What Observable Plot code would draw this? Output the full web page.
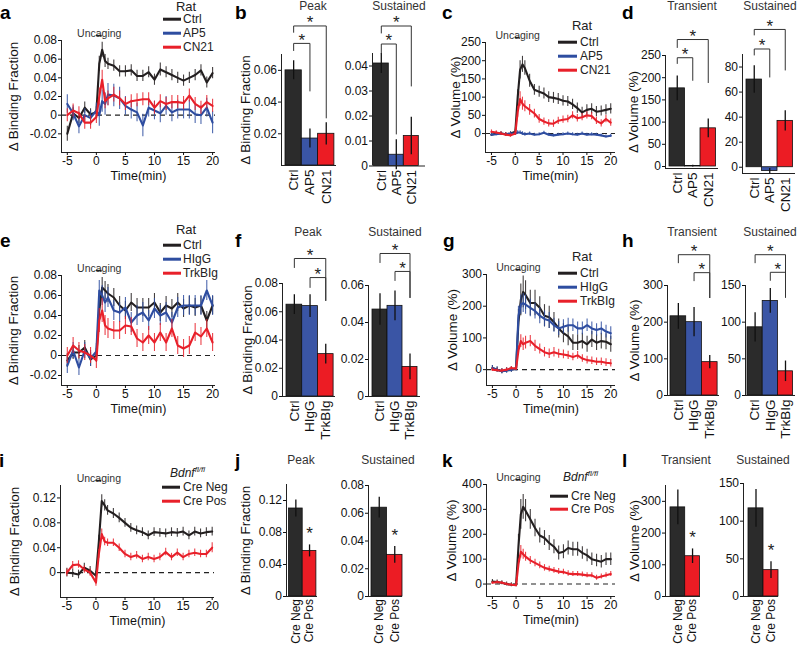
<!DOCTYPE html>
<html><head><meta charset="utf-8">
<script src="https://cdn.jsdelivr.net/npm/d3@7"></script>
<script src="https://cdn.jsdelivr.net/npm/@observablehq/plot@0.6"></script>
<style>
body{margin:0;background:#fff;}
#root{position:relative;width:800px;height:645px;overflow:hidden;font-family:"Liberation Sans",Arial,Helvetica,sans-serif;color:#111;background:#fff;}
.abs{position:absolute;white-space:nowrap;line-height:1;}
.letter{font-weight:bold;font-size:19px;color:#000;}
.title{font-size:12px;color:#333;transform:translate(-50%,-50%);}
.legtxt{font-size:12px;color:#222;transform:translateY(-50%);}
.legtitle{font-size:13px;color:#222;transform:translate(-50%,-50%);}
.sw{position:absolute;height:2.6px;transform:translateY(-50%);}
</style></head><body><div id="root"></div>
<script>
// ---------- time axis ----------
const T = [-5,-4,-3,-2,-1,0,0.5,1,1.5,2,3,4,5,6,7,8,9,10,11,12,13,14,15,16,17,18,19,20];
const TIME_TICKS = [-5,0,5,10,15,20];

// ---------- panel a (binding fraction, rat) ----------
const aCtrl    = [-0.020,0.002,-0.003,0.008,0.001,0.003,0.055,0.070,0.058,0.055,0.053,0.047,0.047,0.048,0.042,0.042,0.046,0.038,0.049,0.046,0.043,0.040,0.037,0.040,0.043,0.048,0.035,0.045];
const aCtrlErr = [0.008,0.006,0.006,0.006,0.006,0.006,0.008,0.008,0.007,0.006,0.006,0.006,0.006,0.006,0.006,0.006,0.006,0.006,0.007,0.006,0.006,0.006,0.006,0.006,0.006,0.006,0.006,0.006];
const aAP5     = [0.012,0.002,-0.012,0.000,-0.003,0.005,0.000,0.015,0.012,0.022,0.021,0.018,0.010,0.006,0.003,-0.011,0.008,0.005,0.002,0.010,0.003,0.006,0.006,0.006,0.001,0.000,0.008,-0.008];
const aAP5Err  = [0.010,0.008,0.008,0.007,0.008,0.008,0.012,0.012,0.012,0.012,0.012,0.012,0.010,0.010,0.010,0.012,0.010,0.010,0.010,0.010,0.010,0.010,0.010,0.010,0.010,0.010,0.010,0.012];
const aCN21    = [0.000,0.005,0.002,-0.008,-0.008,-0.002,0.020,0.038,0.015,0.018,0.022,0.018,0.012,0.015,0.016,0.017,0.017,0.008,0.015,0.012,0.014,0.014,0.013,0.021,0.012,0.008,0.014,0.010];
const aCN21Err = [0.007,0.007,0.007,0.007,0.007,0.007,0.009,0.010,0.008,0.008,0.008,0.008,0.007,0.007,0.007,0.007,0.007,0.007,0.007,0.007,0.007,0.007,0.007,0.007,0.007,0.007,0.007,0.007];

// ---------- panel c (volume, rat) ----------
const cCtrl    = [-3,0,0,-2,0,5,100,175,190,180,145,120,115,110,100,98,95,90,88,80,70,58,65,68,60,62,65,68];
const cCtrlErr = [5,5,5,5,5,5,20,25,22,20,18,15,15,15,15,15,15,14,14,14,14,14,14,14,14,14,14,14];
const cAP5     = [-3,-2,0,-2,0,0,3,3,0,-2,0,-3,-2,2,-3,-5,-3,-2,0,-2,-3,0,-3,-2,-3,-5,-8,-6];
const cAP5Err  = [4,4,4,4,4,4,5,5,5,5,4,4,4,4,4,4,4,4,4,4,4,4,4,4,4,4,4,4];
const cCN21    = [5,3,0,-3,-5,0,60,95,82,75,65,55,40,33,28,27,35,38,40,50,42,45,50,48,35,28,40,30];
const cCN21Err = [5,5,5,5,5,5,15,20,18,15,15,12,12,10,10,10,10,10,10,10,10,10,10,10,10,10,10,10];

// ---------- panel e (binding fraction, antibodies) ----------
const eCtrl    = [-0.005,0.003,0.003,0.008,-0.004,0.000,0.045,0.068,0.065,0.062,0.058,0.050,0.045,0.053,0.048,0.048,0.048,0.053,0.043,0.050,0.047,0.053,0.047,0.050,0.048,0.050,0.035,0.050];
const eCtrlErr = [0.007,0.007,0.007,0.007,0.007,0.007,0.010,0.010,0.009,0.009,0.009,0.009,0.009,0.009,0.009,0.009,0.009,0.009,0.009,0.009,0.009,0.009,0.009,0.009,0.009,0.009,0.009,0.009];
const eHIgG    = [-0.010,0.005,-0.012,0.005,-0.003,0.004,0.065,0.060,0.053,0.058,0.045,0.043,0.048,0.033,0.040,0.043,0.035,0.047,0.040,0.043,0.033,0.048,0.050,0.050,0.050,0.050,0.065,0.050];
const eHIgGErr = [0.008,0.008,0.008,0.008,0.008,0.008,0.010,0.010,0.010,0.010,0.010,0.010,0.010,0.010,0.010,0.010,0.010,0.010,0.010,0.010,0.010,0.010,0.010,0.010,0.010,0.010,0.010,0.010];
const eTrk     = [0.000,0.010,0.005,0.003,0.000,-0.005,0.035,0.045,0.030,0.027,0.025,0.025,0.030,0.029,0.017,0.013,0.020,0.013,0.023,0.013,0.027,0.010,0.007,0.010,0.023,0.019,0.027,0.013];
const eTrkErr  = [0.008,0.008,0.008,0.008,0.008,0.008,0.012,0.012,0.010,0.010,0.009,0.009,0.009,0.009,0.009,0.009,0.009,0.009,0.009,0.009,0.009,0.009,0.009,0.009,0.009,0.009,0.009,0.009];

// ---------- panel g (volume, antibodies) ----------
const gCtrl    = [5,0,-5,-2,0,5,150,220,245,235,210,210,195,170,165,150,130,115,105,85,85,90,80,95,85,90,88,80];
const gCtrlErr = [8,8,8,8,8,8,40,50,50,45,40,40,35,35,35,30,30,30,30,25,25,25,25,25,25,25,25,25];
const gHIgG    = [5,0,-5,-3,0,3,170,205,210,205,195,185,170,160,155,140,130,135,140,140,130,130,140,130,125,130,120,115];
const gHIgGErr = [8,8,8,8,8,8,30,30,30,30,28,25,25,25,25,22,22,22,22,20,20,20,20,20,20,20,20,20];
const gTrk     = [0,-2,-3,0,5,3,60,90,80,85,90,75,65,55,50,55,50,48,45,40,45,35,30,28,25,25,22,20];
const gTrkErr  = [5,5,5,5,5,5,15,20,20,20,18,18,16,15,15,15,14,14,13,12,12,12,12,12,12,12,12,12];

// ---------- panel i (binding fraction, Bdnf fl/fl) ----------
const iNeg     = [0.000,-0.001,-0.003,0.008,0.003,-0.005,0.050,0.115,0.108,0.100,0.095,0.088,0.080,0.072,0.068,0.065,0.060,0.065,0.064,0.063,0.065,0.064,0.066,0.060,0.066,0.063,0.065,0.066];
const iNegErr  = [0.007,0.007,0.007,0.007,0.007,0.007,0.010,0.010,0.009,0.008,0.008,0.008,0.007,0.007,0.007,0.007,0.007,0.007,0.007,0.007,0.007,0.007,0.007,0.007,0.007,0.007,0.007,0.007];
const iPos     = [0.000,0.012,0.013,0.005,0.000,-0.016,0.030,0.062,0.050,0.048,0.048,0.040,0.030,0.025,0.028,0.022,0.025,0.022,0.025,0.033,0.025,0.032,0.025,0.030,0.032,0.030,0.030,0.040];
const iPosErr  = [0.006,0.006,0.006,0.006,0.006,0.006,0.007,0.008,0.007,0.006,0.006,0.006,0.006,0.006,0.006,0.006,0.006,0.006,0.006,0.006,0.006,0.006,0.006,0.006,0.006,0.006,0.006,0.008];

// ---------- panel k (volume, Bdnf fl/fl) ----------
const kNeg     = [10,8,5,0,-3,-3,150,280,310,295,260,225,195,185,165,150,125,130,145,140,140,125,115,100,95,90,100,100];
const kNegErr  = [8,8,8,8,8,8,50,60,50,45,40,35,30,30,30,28,28,28,28,28,28,25,25,25,25,25,25,25];
const kPos     = [5,8,5,0,-3,-5,80,130,120,110,95,85,75,65,60,55,50,48,42,40,40,38,35,35,25,30,35,40];
const kPosErr  = [5,5,5,5,5,5,20,25,20,18,16,15,14,13,12,12,12,11,11,10,10,10,10,10,10,10,10,10];

// ---------- bar panels ----------
const ratCats = ["Ctrl","AP5","CN21"];
const bPeak = [0.060,0.017,0.020],  bPeakErr = [0.006,0.006,0.007];
const bSust = [0.041,0.0045,0.012], bSustErr = [0.004,0.006,0.0075];
const dTrans = [176,1,86],  dTransErr = [28,2,21];
const dSust  = [70,-3,37],  dSustErr  = [11,2,8];

const abCats = ["Ctrl","HIgG","TrkBIg"];
const fPeak = [0.065,0.064,0.030], fPeakErr = [0.007,0.008,0.007];
const fSust = [0.047,0.049,0.016], fSustErr = [0.0085,0.008,0.007];
const hTrans = [216,200,91], hTransErr = [35,40,18];
const hSust  = [93,129,33],  hSustErr  = [20,17,14];

const creCats = ["Cre Neg","Cre Pos"];
const jPeak = [0.110,0.057], jPeakErr = [0.0105,0.0075];
const jSust = [0.064,0.030], jSustErr = [0.0075,0.006];
const lTrans = [281,127], lTransErr = [55,23];
const lSust  = [117,35],  lSustErr  = [25,11];

// significance brackets: [from index, to index, bracket level, left leg end, right leg end]
const bPeakSig  = [[0,2,0.088,0.084,0.030],[0,1,0.077,0.0725,0.047]];
const bSustSig  = [[0,2,0.056,0.0532,0.032],[0,1,0.0488,0.0452,0.0128]];
const dTransSig = [[0,2,286,268,189],[0,1,245,232,194]];
const dSustSig  = [[0,2,110,105.6,77.6],[0,1,94.4,89.6,72]];
const fPeakSig  = [[0,2,0.0977,0.0913,0.068],[1,2,0.0842,0.0772,0.068]];
const fSustSig  = [[0,2,0.0773,0.0724,0.0535],[1,2,0.0676,0.0627,0.0535]];
const hTransSig = [[0,2,384,362,267],[1,2,335,313,267]];
const hSustSig  = [[0,2,192,181,134],[1,2,168,157,134]];
const creSingle = [1];

// ---------- styling ----------
const FONT = '"Liberation Sans", Arial, Helvetica, sans-serif';
const BLACK = "#231f20", BLUE = "#2e4da0", RED = "#e8202a";
const BBLACK = "#2b2b2b", BBLUE = "#3a55a5", BRED = "#ec1c24";
const root = document.getElementById("root");
const STYLE = {fontFamily: FONT, fontSize: "12px", color: "#111", background: "transparent", overflow: "visible", maxWidth: "none"};

function put(node, left, top) {
  node.style.position = "absolute";
  node.style.left = left + "px";
  node.style.top = top + "px";
  root.appendChild(node);
}
function html(cls, text, x, y) {
  const d = document.createElement("div");
  d.className = "abs " + cls;
  d.innerHTML = text;
  d.style.left = x + "px"; d.style.top = y + "px";
  root.appendChild(d);
}
const fmt2 = d => d === 0 ? "0" : d.toFixed(2);
const fmtN = d => String(d);

function linePanel(g, series) {
  const ML = 70, MR = 10, MT = 50, MB = 40;
  const W = g.R - g.L, H = g.B - g.T;
  const marks = [Plot.ruleY([0], {stroke: "#222", strokeWidth: 1.1, strokeDasharray: "5,4"})];
  for (const s of series) {
    const rows = T.map((t, i) => ({t, v: s.v[i], e: s.e[i]}));
    marks.push(Plot.ruleX(rows, {x: "t", y1: d => d.v - d.e, y2: d => d.v + d.e, stroke: s.c, strokeWidth: 1.1, strokeOpacity: 0.85}));
    marks.push(Plot.line(rows, {x: "t", y: "v", stroke: s.c, strokeWidth: 2.1}));
  }
  marks.push(
    Plot.ruleX([g.xd[0]], {stroke: "#222", strokeWidth: 1}),
    Plot.ruleY([g.yd[0]], {stroke: "#222", strokeWidth: 1}),
    Plot.axisX({ticks: TIME_TICKS, tickFormat: fmtN, tickSize: 3, tickPadding: 1, label: null}),
    Plot.axisY({ticks: g.yticks, tickFormat: g.fmt, tickSize: 3, tickPadding: 1.5, label: null}),
    Plot.text(["Time(min)"], {frameAnchor: "bottom", textAnchor: "middle", dy: 27, fontSize: 12.5}),
    Plot.text([g.ylabel], {frameAnchor: "left", textAnchor: "middle", rotate: -90, dx: -g.ld, fontSize: 13.5}),
    Plot.text(["Uncaging"], {x: 0.5, frameAnchor: "top", textAnchor: "middle", dy: -11, fontSize: 10.5, fill: "#333"}),
    Plot.ruleY([g.yd[1]], {x1: 0, x2: 1, dy: -5, stroke: "#222", strokeWidth: 1.3})
  );
  const p = Plot.plot({
    width: W + ML + MR, height: H + MT + MB,
    marginLeft: ML, marginRight: MR, marginTop: MT, marginBottom: MB,
    x: {domain: g.xd}, y: {domain: g.yd},
    style: STYLE, marks
  });
  put(p, g.L - ML, g.T - MT);
}

function barPanel(g, cats, vals, errs, colors, sig, singles) {
  const ML = 60, MR = 10, MT = 70, MB = 70;
  const W = g.R - g.ax, H = g.B - g.T;
  const off = (g.bs - g.ax) / g.bw;
  const cx = i => off + i + 0.5;
  const rows = cats.map((c, i) => ({i, v: vals[i], e: errs[i], c: colors[i]}));
  const brRows = sig.flatMap((b, k) => [
    {k, x: cx(b[0]), y: b[3]}, {k, x: cx(b[0]), y: b[2]},
    {k, x: cx(b[1]), y: b[2]}, {k, x: cx(b[1]), y: b[4]}]);
  const marks = [
    Plot.rect(rows, {x1: d => off + d.i, x2: d => off + d.i + 1, y1: 0, y2: "v", fill: "c", stroke: "#111", strokeWidth: 0.8}),
    Plot.ruleX(rows, {x: d => cx(d.i), y1: d => d.v - d.e, y2: d => d.v + d.e, stroke: "#111", strokeWidth: 1.3}),
    Plot.line(brRows, {x: "x", y: "y", z: "k", stroke: "#333", strokeWidth: 1}),
    Plot.text(sig, {x: b => (cx(b[0]) + cx(b[1])) / 2, y: b => b[2], text: () => "*", fontSize: 17, dy: -3, fill: "#222"}),
    Plot.text(singles, {x: s => cx(s), y: s => vals[s] + errs[s], text: () => "*", fontSize: 17, dy: -11, fill: "#222"}),
    Plot.ruleX([0], {stroke: "#222", strokeWidth: 1}),
    Plot.ruleY([g.yd[0]], {stroke: "#222", strokeWidth: 1}),
    Plot.axisY({ticks: g.yticks, tickFormat: g.fmt, tickSize: 3, tickPadding: 1.5, label: null}),
    Plot.axisX({ticks: cats.map((c, i) => cx(i)), tickFormat: d => cats[Math.round(d - off - 0.5)], tickRotate: -90, tickSize: 0, tickPadding: g.tp ?? 4, fontSize: g.cf ?? 13.5, label: null})
  ];
  if (g.ylabel) marks.push(Plot.text([g.ylabel], {frameAnchor: "left", textAnchor: "middle", rotate: -90, dx: -g.ld, fontSize: 13.5}));
  const p = Plot.plot({
    width: W + ML + MR, height: H + MT + MB,
    marginLeft: ML, marginRight: MR, marginTop: MT, marginBottom: MB,
    x: {domain: [0, W / g.bw]}, y: {domain: g.yd},
    color: {type: "identity"},
    style: STYLE, marks
  });
  put(p, g.ax - ML, g.T - MT);
}

function legend(title, tx, ty, centered, items, x0, x1, xt) {
  html(centered ? "legtitle" : "legtxt", title, tx, ty);
  for (const it of items) {
    const s = document.createElement("div");
    s.className = "sw";
    s.style.left = x0 + "px"; s.style.top = it.y + "px";
    s.style.width = (x1 - x0) + "px"; s.style.background = it.c;
    root.appendChild(s);
    html("legtxt", it.t, xt, it.y);
  }
}

const BIND = "Δ Binding Fraction", VOL = "Δ Volume (%)";
const bindTicks = [-0.02,0,0.02,0.04,0.06,0.08];

// ---- row 1 ----
linePanel({L: 61, R: 215, T: 40, B: 152, xd: [-6, 20.5], yd: [-0.04, 0.08], yticks: bindTicks, fmt: fmt2, ylabel: BIND, ld: 48},
  [{v: aCtrl, e: aCtrlErr, c: BLACK}, {v: aAP5, e: aAP5Err, c: BLUE}, {v: aCN21, e: aCN21Err, c: RED}]);
barPanel({ax: 281, R: 336, T: 54, B: 165, bs: 285, bw: 16.3, yd: [0, 0.07], yticks: [0.02,0.04,0.06], fmt: fmt2, ylabel: BIND, ld: 36},
  ratCats, bPeak, bPeakErr, [BBLACK, BBLUE, BRED], bPeakSig, []);
barPanel({ax: 372, R: 425, T: 52.5, B: 165, bs: 373.3, bw: 15, yd: [0, 0.045], yticks: [0,0.01,0.02,0.03,0.04], fmt: fmt2},
  ratCats, bSust, bSustErr, [BBLACK, BBLUE, BRED], bSustSig, []);
linePanel({L: 485, R: 615, T: 42, B: 152, xd: [-6.25, 21], yd: [-52, 250], yticks: [0,50,100,150,200,250], fmt: fmtN, ylabel: VOL, ld: 30},
  [{v: cCtrl, e: cCtrlErr, c: BLACK}, {v: cAP5, e: cAP5Err, c: BLUE}, {v: cCN21, e: cCN21Err, c: RED}]);
barPanel({ax: 665, R: 718, T: 55, B: 168, bs: 669, bw: 15.5, yd: [-4.5, 250], yticks: [0,50,100,150,200,250], fmt: fmtN, ylabel: VOL, ld: 32},
  ratCats, dTrans, dTransErr, [BBLACK, BBLUE, BRED], dTransSig, []);
barPanel({ax: 742, R: 795, T: 54, B: 173, bs: 746, bw: 15.5, yd: [-5, 90], yticks: [0,20,40,60,80], fmt: fmtN},
  ratCats, dSust, dSustErr, [BBLACK, BBLUE, BRED], dSustSig, []);

// ---- row 2 ----
linePanel({L: 61, R: 215, T: 275, B: 385, xd: [-6, 20.5], yd: [-0.03, 0.08], yticks: bindTicks, fmt: fmt2, ylabel: BIND, ld: 48},
  [{v: eCtrl, e: eCtrlErr, c: BLACK}, {v: eHIgG, e: eHIgGErr, c: BLUE}, {v: eTrk, e: eTrkErr, c: RED}]);
barPanel({ax: 282, R: 335, T: 283, B: 396, bs: 286, bw: 15.7, yd: [0, 0.08], yticks: [0,0.02,0.04,0.06,0.08], fmt: fmt2, ylabel: BIND, ld: 35},
  abCats, fPeak, fPeakErr, [BBLACK, BBLUE, BRED], fPeakSig, []);
barPanel({ax: 368, R: 420, T: 285, B: 396, bs: 372, bw: 15, yd: [0, 0.06], yticks: [0,0.02,0.04,0.06], fmt: fmt2},
  abCats, fSust, fSustErr, [BBLACK, BBLUE, BRED], fSustSig, []);
linePanel({L: 486, R: 615, T: 274, B: 385, xd: [-6.25, 21], yd: [-50, 300], yticks: [0,100,200,300], fmt: fmtN, ylabel: VOL, ld: 34},
  [{v: gCtrl, e: gCtrlErr, c: BLACK}, {v: gHIgG, e: gHIgGErr, c: BLUE}, {v: gTrk, e: gTrkErr, c: RED}]);
barPanel({ax: 667, R: 719, T: 285, B: 395, bs: 670, bw: 15.7, yd: [0, 300], yticks: [0,100,200,300], fmt: fmtN, ylabel: VOL, ld: 33},
  abCats, hTrans, hTransErr, [BBLACK, BBLUE, BRED], hTransSig, []);
barPanel({ax: 745, R: 795, T: 285, B: 395, bs: 747, bw: 15.2, yd: [0, 150], yticks: [0,50,100,150], fmt: fmtN},
  abCats, hSust, hSustErr, [BBLACK, BBLUE, BRED], hSustSig, []);

// ---- row 3 ----
linePanel({L: 60, R: 214, T: 485, B: 597, xd: [-6.1, 20.4], yd: [-0.04, 0.14], yticks: [0,0.04,0.08,0.12], fmt: fmt2, ylabel: BIND, ld: 46},
  [{v: iNeg, e: iNegErr, c: BLACK}, {v: iPos, e: iPosErr, c: RED}]);
barPanel({ax: 286, R: 317, T: 484, B: 596, bs: 288.5, bw: 13.7, yd: [0, 0.14], yticks: [0,0.04,0.08,0.12], fmt: fmt2, ylabel: BIND, ld: 41, cf: 12, tp: 2.5},
  creCats, jPeak, jPeakErr, [BBLACK, BRED], [], creSingle);
barPanel({ax: 368, R: 402, T: 485, B: 596, bs: 371, bw: 15.5, yd: [0, 0.08], yticks: [0,0.02,0.04,0.06,0.08], fmt: fmt2, cf: 12, tp: 2.5},
  creCats, jSust, jSustErr, [BBLACK, BRED], [], creSingle);
linePanel({L: 486, R: 615, T: 484, B: 596, xd: [-6.25, 21], yd: [-50, 400], yticks: [0,100,200,300,400], fmt: fmtN, ylabel: VOL, ld: 35},
  [{v: kNeg, e: kNegErr, c: BLACK}, {v: kPos, e: kPosErr, c: RED}]);
barPanel({ax: 665, R: 700, T: 485, B: 596, bs: 670, bw: 14.7, yd: [0, 350], yticks: [0,100,200,300], fmt: fmtN, ylabel: VOL, ld: 31, cf: 12, tp: 2.5},
  creCats, lTrans, lTransErr, [BBLACK, BRED], [], creSingle);
barPanel({ax: 743, R: 778, T: 483, B: 596, bs: 748, bw: 15, yd: [0, 150], yticks: [0,50,100,150], fmt: fmtN, cf: 12, tp: 2.5},
  creCats, lSust, lSustErr, [BBLACK, BRED], [], creSingle);

// ---- panel letters ----
[["a",0,3],["b",235,3],["c",442,3],["d",622,3],["e",0,231],["f",235,231],["g",443,231],["h",622,231],["i",-1,451],["j",235,451],["k",442,451],["l",622,451]]
  .forEach(([t,x,y]) => html("letter", t, x, y));

// ---- sub-panel titles ----
[["Peak",313,6],["Sustained",399,6],["Transient",692,6],["Sustained",770,6],
 ["Peak",308,232],["Sustained",395,232],["Transient",692,232],["Sustained",770,232],
 ["Peak",301,460],["Sustained",388,460],["Transient",686,460],["Sustained",763,460]]
  .forEach(([t,x,y]) => html("title", t, x, y));

// ---- legends ----
legend("Rat", 186, 6, true, [{t:"Ctrl",c:BLACK,y:19},{t:"AP5",c:BLUE,y:33},{t:"CN21",c:RED,y:47}], 163, 181, 183);
legend("Rat", 582, 25, true, [{t:"Ctrl",c:BLACK,y:42},{t:"AP5",c:BLUE,y:56},{t:"CN21",c:RED,y:70}], 558, 577, 580);
legend("Rat", 186, 229, true, [{t:"Ctrl",c:BLACK,y:245},{t:"HIgG",c:BLUE,y:259},{t:"TrkBIg",c:RED,y:273}], 163, 181, 183);
legend("Rat", 582, 256, true, [{t:"Ctrl",c:BLACK,y:273},{t:"HIgG",c:BLUE,y:287},{t:"TrkBIg",c:RED,y:301}], 558, 577, 580);
const bdnf = '<i>Bdnf</i><sup style="font-size:8px;font-style:italic">fl/fl</sup>';
legend(bdnf, 170, 472, false, [{t:"Cre Neg",c:BLACK,y:487},{t:"Cre Pos",c:RED,y:501}], 162, 180, 183);
legend(bdnf, 563, 476, false, [{t:"Cre Neg",c:BLACK,y:496},{t:"Cre Pos",c:RED,y:509}], 550, 568, 571);
</script></body></html>
